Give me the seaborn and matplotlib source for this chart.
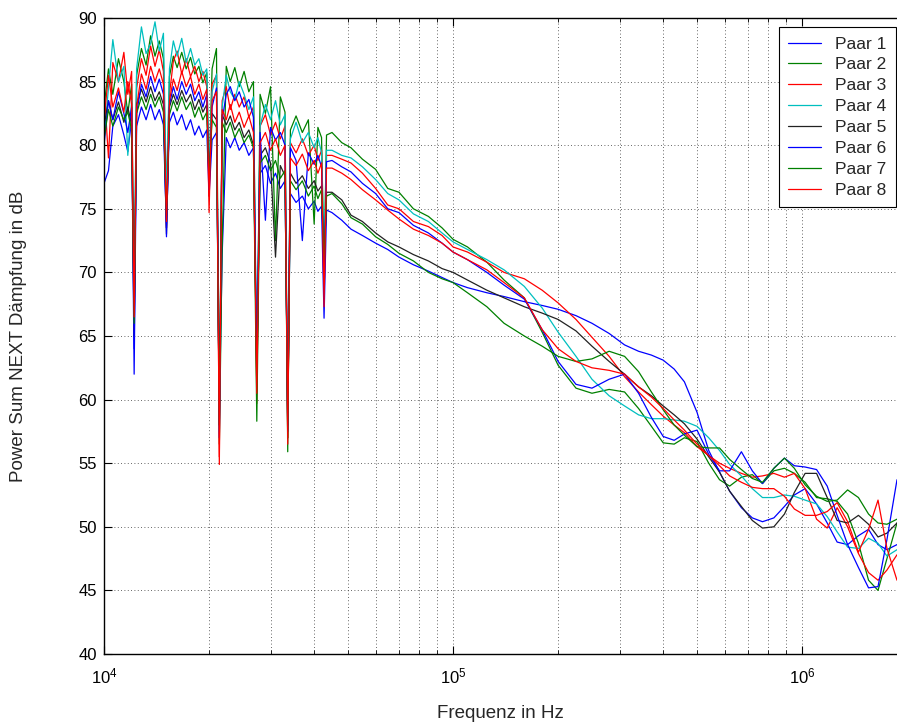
import numpy as np
import pandas as pd
import matplotlib
matplotlib.use("Agg")
import matplotlib.pyplot as plt
from matplotlib.ticker import LogLocator, MultipleLocator, NullFormatter
import seaborn as sns

# Frequency grid in kHz
FREQ_KHZ = [
    10, 10.3, 10.6, 11, 11.4, 11.7, 12.0, 12.2, 12.4, 12.8, 13.2,
    13.6, 14.0, 14.4, 14.8, 15.1, 15.4, 15.8, 16.2, 16.7, 17.2, 17.7,
    18.2, 18.7, 19.2, 19.7, 20.0, 20.4, 21.0, 21.4, 21.8, 22.4, 23.0,
    23.7, 24.4, 25.2, 26.0, 26.8, 27.4, 28.0, 29.0, 30.0, 31.0, 32.0,
    33.0, 33.6, 34.2, 35.5, 37.0, 38.5, 40.0, 41.0, 42.0, 42.7, 43.4,
    45, 48, 51, 55, 60, 65, 70, 77, 85, 93, 100,
    110, 125, 140, 160, 180, 200, 225, 250, 280, 310, 340,
    370, 400, 430, 460, 500, 540, 580, 620, 670, 720, 770,
    830, 890, 950, 1020, 1100, 1180, 1260, 1350, 1450, 1550, 1650,
    1750, 1870,
]

# Power Sum NEXT attenuation in dB per pair
PAAR_1 = [
    77.0, 78.0, 81.5, 82.4, 80.8, 79.5, 82.0, 62.0, 81.5, 83.0, 82.0,
    83.2, 82.0, 82.8, 81.6, 73.5, 81.8, 82.6, 81.6, 82.4, 81.2, 82.0,
    80.8, 81.5, 80.6, 81.2, 76.0, 80.4, 81.0, 59.0, 71.4, 80.6, 79.8,
    80.6, 79.6, 80.2, 79.2, 79.8, 62.5, 77.8, 78.4, 77.0, 77.8, 76.6,
    77.2, 59.0, 76.2, 75.5, 76.0, 75.0, 75.6, 74.8, 75.2, 66.4, 74.9,
    74.7, 74.1, 73.4, 72.9, 72.3, 71.8, 71.2, 70.6, 70.1, 69.6, 69.2,
    68.8, 68.4, 68.1, 67.7, 67.4, 67.1, 66.6, 66.0, 65.2, 64.3, 63.8,
    63.5, 63.1, 62.4, 61.4, 59.0, 56.0, 54.3, 52.8, 51.5, 50.7, 50.4,
    50.7, 51.6, 52.5, 53.0, 51.8, 50.3, 48.8, 48.6, 49.3, 49.8, 48.6,
    48.2, 48.6,
]
PAAR_2 = [
    83.0, 86.0, 84.0, 86.8, 85.0, 82.5, 84.8, 67.0, 85.5, 87.6, 86.3,
    88.6, 87.0, 88.2, 86.8, 75.0, 85.4, 87.0, 86.1, 87.3, 86.0, 86.9,
    85.6, 86.2, 84.9, 85.7, 77.5, 86.0, 87.6, 56.5, 72.0, 86.2, 85.0,
    86.1, 84.6, 85.8, 84.2, 85.0, 60.5, 84.0, 82.5, 84.6, 72.5, 83.8,
    82.6, 55.9, 81.2, 82.3, 81.0, 82.0, 73.8, 81.4, 80.6, 70.5, 80.8,
    81.0, 80.2, 79.8, 78.9, 78.1, 76.6, 76.3, 75.0, 74.4, 73.5, 72.6,
    72.0, 70.8, 69.4, 68.0, 65.3, 62.7, 60.9, 60.5, 60.8, 60.6, 59.3,
    57.9, 56.6, 56.5, 57.0, 56.7, 55.0, 53.7, 53.2, 53.9, 54.1, 53.4,
    54.4, 54.6, 54.2, 53.5, 52.3, 52.2, 52.0, 51.0, 48.7, 45.8, 45.0,
    47.5, 50.3,
]
PAAR_3 = [
    84.5, 79.0, 86.5, 85.0, 87.3, 84.0, 85.8, 65.5, 84.5, 86.8, 85.5,
    87.8, 86.2, 87.5, 85.8, 73.5, 84.0, 86.6, 87.4, 85.6, 86.8, 85.4,
    86.2, 85.0, 85.8, 84.6, 74.7, 84.8, 85.5, 54.9, 83.5, 84.6, 82.8,
    84.0, 83.0, 83.8, 82.2, 83.0, 59.7, 81.5, 82.4, 80.8, 81.8, 80.5,
    81.5, 56.5, 80.2, 79.4, 80.5, 79.2, 80.0, 78.8, 79.6, 67.3, 79.2,
    79.2, 78.9, 78.6, 77.8, 76.6, 75.3, 75.0, 74.0, 73.6, 72.9, 72.0,
    71.6, 70.8, 70.0, 69.5, 68.6, 67.6, 66.3, 64.9, 63.4, 61.8, 60.6,
    59.6, 58.7, 58.0, 57.4, 56.3, 55.6, 55.0, 54.6, 54.2, 53.9, 54.0,
    54.2, 53.9, 54.2, 53.0, 50.6, 49.9, 51.5, 50.0, 47.9, 46.4, 45.8,
    46.6, 47.8,
]
PAAR_4 = [
    80.5, 84.5, 88.3, 85.0, 86.2, 79.2, 83.5, 68.0, 86.0, 89.3, 87.2,
    88.0, 89.7, 87.4, 88.8, 76.0, 86.0, 88.2, 87.0, 88.4, 86.5, 87.6,
    86.3, 86.8, 85.5, 86.0, 78.0, 84.2, 85.6, 57.5, 83.0, 85.5, 84.2,
    83.6, 85.0, 84.0, 82.8, 83.8, 63.0, 81.5, 83.2, 82.0, 83.5, 81.6,
    82.4, 58.0, 80.5, 81.8, 80.2, 81.0, 79.8, 80.6, 79.4, 71.0, 79.6,
    79.6, 79.2, 79.0, 78.3, 77.3, 76.2, 75.7, 74.6, 74.0, 73.1, 72.4,
    71.8, 71.0, 70.2, 68.9, 67.2, 65.3, 63.4, 61.6, 60.3, 59.5, 58.8,
    58.5, 58.5, 58.4, 58.3, 57.9, 57.0, 56.0, 54.9, 54.0, 53.0, 52.3,
    52.3, 52.5, 52.4, 52.1, 51.8, 50.8, 49.6, 48.4, 48.3, 49.1, 48.7,
    47.7, 48.2,
]
PAAR_5 = [
    81.5, 83.5, 82.0, 83.4, 81.8, 83.0, 81.6, 65.0, 83.2, 84.4, 83.4,
    84.6, 83.5, 84.2, 83.2, 73.0, 83.0, 84.0, 83.2, 84.3, 83.4, 84.0,
    82.8, 83.6, 82.6, 83.2, 77.0, 82.5, 82.0, 58.0, 82.4, 81.6, 82.3,
    81.2, 81.8, 80.6, 81.2, 80.0, 61.5, 79.2, 79.8, 78.6, 71.2, 78.4,
    77.6, 58.0, 77.8, 77.0, 77.6, 76.6, 77.2, 76.4, 76.8, 70.0, 76.3,
    76.3, 75.7, 74.5, 74.0, 73.1, 72.4, 72.0, 71.4, 70.9, 70.3, 70.0,
    69.4, 68.6, 68.0, 67.3, 66.8, 66.3, 65.4, 64.2, 63.0, 62.0, 61.0,
    60.3, 59.5, 58.8, 58.1, 56.9, 55.5, 54.3, 52.8, 51.6, 50.5, 49.9,
    50.0, 51.0, 52.7, 54.2, 54.2, 52.3, 50.5, 50.3, 50.9, 50.2, 49.2,
    49.5, 50.3,
]
PAAR_6 = [
    80.0, 83.5, 82.0, 84.2, 82.5, 81.0, 83.0, 64.0, 82.5, 84.8, 83.8,
    85.4, 84.2, 85.2, 84.0, 72.8, 83.2, 84.6, 83.6, 85.0, 84.0, 84.8,
    83.5, 84.2, 83.0, 84.0, 76.5, 83.0, 84.5, 57.0, 82.0, 84.0, 84.6,
    83.5, 84.2, 83.0, 83.6, 82.2, 62.0, 81.0, 74.1, 81.4, 80.4, 81.0,
    80.0, 57.5, 79.8, 78.8, 72.5, 79.4, 78.5, 79.2, 78.3, 68.0, 78.7,
    78.8, 78.3, 77.9, 77.0, 76.2, 75.0, 74.7, 73.7, 73.1, 72.3, 71.6,
    71.0, 70.0, 69.0, 67.9, 65.5, 63.0, 61.2, 60.9, 61.6, 62.0, 60.5,
    58.6, 57.1, 56.8, 57.3, 57.6, 55.7, 54.4, 54.4, 55.9, 54.4, 53.4,
    54.6, 55.4, 54.8, 54.7, 54.5, 53.2, 50.9, 48.6, 46.8, 45.2, 45.3,
    49.0, 53.7,
]
PAAR_7 = [
    80.5, 82.8, 81.5, 83.0, 82.0, 82.6, 81.2, 66.0, 82.5, 83.8, 82.8,
    84.0, 83.0, 83.8, 82.6, 74.5, 82.4, 83.5, 82.7, 83.8, 82.8, 83.4,
    82.2, 83.0, 82.0, 82.6, 77.5, 82.0, 81.4, 58.0, 81.8, 81.0, 81.8,
    80.6, 81.3, 80.2, 80.8, 79.8, 58.3, 78.6, 79.2, 78.0, 78.8, 77.4,
    78.0, 57.0, 77.2, 76.5, 77.2, 76.0, 76.8, 75.8, 76.5, 71.0, 76.0,
    76.2, 75.4, 74.3, 73.8, 72.8, 72.2, 71.5, 70.9, 70.0, 69.5, 69.2,
    68.4, 67.3, 66.0, 65.0, 64.2, 63.4, 63.0, 63.2, 63.8, 63.4, 62.2,
    60.6, 59.2, 58.0, 57.2, 56.3, 56.2, 56.2, 55.3, 54.5, 53.8, 53.5,
    54.6, 55.4, 54.6, 53.3, 52.4, 52.0, 52.1, 52.9, 52.3, 51.0, 50.3,
    50.2, 50.6,
]
PAAR_8 = [
    82.0, 85.5, 83.0, 84.5, 82.6, 85.0, 83.2, 66.5, 83.0, 85.6, 84.4,
    86.2, 85.0, 86.0, 84.8, 74.0, 83.5, 85.2, 84.3, 85.8, 84.6, 85.4,
    84.0, 84.8, 83.6, 84.4, 76.0, 83.5, 84.2, 55.5, 82.8, 82.0, 83.2,
    81.8, 82.6, 81.4, 82.3, 81.0, 60.5, 80.2, 81.0, 79.6, 80.5, 79.2,
    80.0, 57.0, 79.0, 78.4, 79.3, 78.0, 78.8, 77.8, 78.6, 68.0, 78.2,
    78.2, 77.8, 77.3, 76.5, 75.7, 74.9, 74.2, 73.4, 72.9, 72.3, 71.6,
    71.0, 70.2, 69.2, 68.0, 65.5, 64.0, 63.0, 62.5, 62.3, 62.0, 61.0,
    60.2, 59.3, 58.4, 57.6, 56.5, 55.6, 54.8, 54.0, 53.5, 53.1, 53.0,
    53.0, 52.4, 51.4, 50.9, 50.9, 51.2, 51.9, 50.4, 48.0, 49.8, 52.1,
    48.3, 45.8,
]

PAAR_NAMES = ["Paar 1", "Paar 2", "Paar 3", "Paar 4", "Paar 5", "Paar 6", "Paar 7", "Paar 8"]
PAAR_COLORS = ["#0000ff", "#008000", "#ff0000", "#00bfbf", "#222222", "#0000ff", "#008000", "#ff0000"]


def build_frame() -> pd.DataFrame:
    """Long-form table: one row per pair and frequency."""
    series = [PAAR_1, PAAR_2, PAAR_3, PAAR_4, PAAR_5, PAAR_6, PAAR_7, PAAR_8]
    freq_hz = np.array(FREQ_KHZ) * 1000.0
    parts = []
    for name, values in zip(PAAR_NAMES, series):
        parts.append(pd.DataFrame({"freq": freq_hz, "db": values, "Paar": name}))
    return pd.concat(parts, ignore_index=True)


def main():
    df = build_frame()

    sns.set_style("white")
    plt.rcParams["font.family"] = ["Liberation Sans", "DejaVu Sans"]
    plt.rcParams["mathtext.default"] = "regular"

    fig = plt.figure(figsize=(8.97, 7.24), dpi=100)
    ax = fig.add_axes([104 / 897, 70 / 724, 793 / 897, 636 / 724])

    sns.lineplot(
        data=df, x="freq", y="db", hue="Paar", hue_order=PAAR_NAMES,
        palette=dict(zip(PAAR_NAMES, PAAR_COLORS)), linewidth=0.9,
        errorbar=None, ax=ax,
    )

    ax.set_xscale("log")
    ax.set_xlim(1e4, 1.87e6)
    ax.set_ylim(40, 90)
    ax.yaxis.set_major_locator(MultipleLocator(5))
    ax.xaxis.set_major_locator(LogLocator(base=10))
    ax.xaxis.set_minor_locator(LogLocator(base=10, subs=np.arange(2, 10)))
    ax.xaxis.set_minor_formatter(NullFormatter())

    grid_kw = dict(color="0.2", linestyle=(0, (1, 3)), linewidth=0.6)
    ax.grid(True, which="major", **grid_kw)
    ax.xaxis.grid(True, which="minor", **grid_kw)

    ax.spines["right"].set_visible(False)
    for side in ["left", "bottom", "top"]:
        ax.spines[side].set_color("black")
        ax.spines[side].set_linewidth(1.0)
    ax.tick_params(which="both", direction="in", top=True, bottom=True, left=True,
                   labelsize=12, colors="black")
    ax.tick_params(which="major", length=6)
    ax.tick_params(which="minor", length=3)
    ax.tick_params(axis="x", which="major", pad=9)
    ax.tick_params(axis="y", which="major", pad=5)

    ax.set_xlabel("Frequenz in Hz", fontsize=13.5)
    ax.set_ylabel("Power Sum NEXT Dämpfung in dB", fontsize=13.5)
    ax.xaxis.set_label_coords(0.5, -0.08)
    ax.yaxis.set_label_coords(-0.097, 0.5)

    leg = ax.legend(
        title=None, loc="upper right", bbox_to_anchor=(0.999, 0.986),
        frameon=True, fancybox=False, edgecolor="black", framealpha=1,
        fontsize=12.5, handlelength=1.9, handletextpad=0.8,
        labelspacing=0.33, borderaxespad=0, borderpad=0.55,
    )
    leg.get_frame().set_linewidth(0.8)

    fig.savefig("out.png", dpi=100)


if __name__ == "__main__":
    main()
